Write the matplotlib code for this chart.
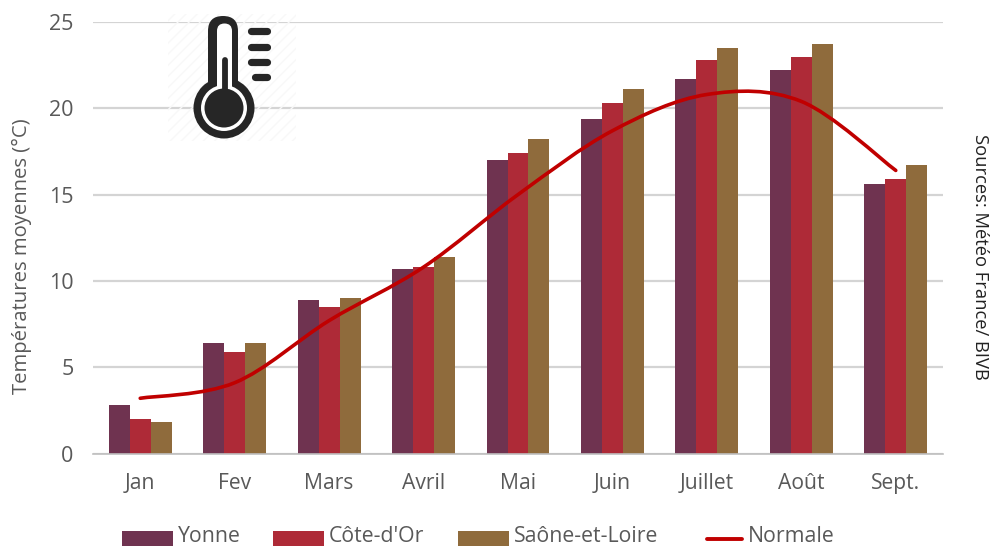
import numpy as np
import matplotlib
matplotlib.use("Agg")
import matplotlib.pyplot as plt
from matplotlib.path import Path
from matplotlib.patches import PathPatch, Rectangle, Circle, FancyBboxPatch
from matplotlib.lines import Line2D

plt.rcParams['font.family'] = ['Open Sans', 'DejaVu Sans']

months = ['Jan', 'Fev', 'Mars', 'Avril', 'Mai', 'Juin', 'Juillet', 'Août', 'Sept.']
yonne = [2.8, 6.4, 8.9, 10.7, 17.0, 19.4, 21.7, 22.2, 15.6]
cote_dor = [2.0, 5.9, 8.5, 10.8, 17.4, 20.3, 22.8, 23.0, 15.9]
saone = [1.85, 6.4, 9.0, 11.4, 18.2, 21.1, 23.5, 23.7, 16.7]
normale = [3.2, 4.1, 7.7, 10.8, 15.0, 18.7, 20.8, 20.4, 16.4]
yticks = [0, 5, 10, 15, 20, 25]

C_Y, C_C, C_S, C_N = '#6F3350', '#AE2A37', '#8F6B3C', '#C00000'
GRAY = '#595959'
W, H = 991, 547
fig = plt.figure(figsize=(W / 100, H / 100), dpi=100, facecolor='white')
L, R, T, B = 93, 943, 22, 453.5
ax = fig.add_axes([L / W, 1 - B / H, (R - L) / W, (B - T) / H])
x = np.arange(len(months))
bw = 0.222
ax.set_axisbelow(True)
ax.bar(x - bw, yonne, bw, color=C_Y, zorder=2)
ax.bar(x, cote_dor, bw, color=C_C, zorder=2)
ax.bar(x + bw, saone, bw, color=C_S, zorder=2)

# Excel style smooth line: Catmull-Rom beziers through the monthly values
pts = np.column_stack([x, normale])
verts = [pts[0]]
codes = [Path.MOVETO]
for i in range(len(pts) - 1):
    p0 = pts[max(i - 1, 0)]
    p1, p2 = pts[i], pts[i + 1]
    p3 = pts[min(i + 2, len(pts) - 1)]
    verts += [p1 + (p2 - p0) / 6, p2 - (p3 - p1) / 6, p2]
    codes += [Path.CURVE4] * 3
ax.add_patch(PathPatch(Path(verts, codes), fc='none', ec=C_N, lw=2.6, capstyle='round', zorder=3))

ax.set_xlim(-0.5, len(months) - 0.5)
ax.set_ylim(0, 25)
ax.set_yticks(yticks)
ax.set_xticks(x, months)
ax.grid(axis='y', color='#D4D4D4', lw=1.6)
ax.tick_params(length=0, labelcolor=GRAY)
ax.tick_params(axis='x', pad=14, labelsize=15.2)
ax.tick_params(axis='y', pad=14, labelsize=15.5)
for s in ['top', 'right', 'left']:
    ax.spines[s].set_visible(False)
ax.spines['bottom'].set_color('#BFBFBF')
ax.spines['bottom'].set_linewidth(1.2)

fig.text(22 / W, 1 - 256 / H, 'Températures moyennes (°C)', rotation=90, ha='center', va='center',
         fontsize=14.6, color=GRAY)
fig.text(980 / W, 1 - 257 / H, 'Sources: Météo France/ BIVB', rotation=-90, ha='center', va='center',
         fontsize=13.2, color='#222222')

# Thermometer icon on a pixel-coordinate overlay
ov = fig.add_axes([0, 0, 1, 1], facecolor='none', zorder=5)
ov.set_xlim(0, W)
ov.set_ylim(H, 0)
ov.axis('off')
INK = '#262626'
ov.add_patch(Rectangle((168, 14), 128, 127, fc='none', ec='#F8F8F8', lw=0, hatch='///', zorder=0))
ov.add_patch(FancyBboxPatch((208 + 15, 16 + 15), 0, 90, boxstyle='round,pad=15', fc=INK, ec='none', zorder=1))
ov.add_patch(Circle((224, 108), 30.5, fc=INK, ec='none', zorder=1))
ov.add_patch(FancyBboxPatch((224.5, 31), 0, 75, boxstyle='round,pad=7.5', fc='white', ec='none', zorder=2))
ov.add_patch(Circle((224, 108), 23, fc='white', ec='none', zorder=2))
ov.add_patch(Circle((224, 108), 19.5, fc=INK, ec='none', zorder=3))
ov.plot([224.5, 224.5], [60, 100], color=INK, lw=4.2, solid_capstyle='round', zorder=3)
for xs, y in [(250.5, 31), (250.5, 47), (250.5, 62), (254.5, 77)]:
    ov.plot([xs, 266.5], [y, y], color=INK, lw=5.2, solid_capstyle='round', zorder=3)

# Legend
for x0, w, col, label in [(122, 51, C_Y, 'Yonne'), (273, 51, C_C, "Côte-d'Or"), (458, 51, C_S, 'Saône-et-Loire')]:
    ov.add_patch(Rectangle((x0, 531), w, 15, fc=col, ec='none'))
    ov.text(x0 + w + 5, 537, label, va='center', ha='left', fontsize=15.3, color=GRAY)
ov.add_line(Line2D([707, 742], [538.5, 538.5], color=C_N, lw=2.8, solid_capstyle='round'))
ov.text(748, 537, 'Normale', va='center', ha='left', fontsize=15.3, color=GRAY)

fig.savefig('out.png', dpi=100)
